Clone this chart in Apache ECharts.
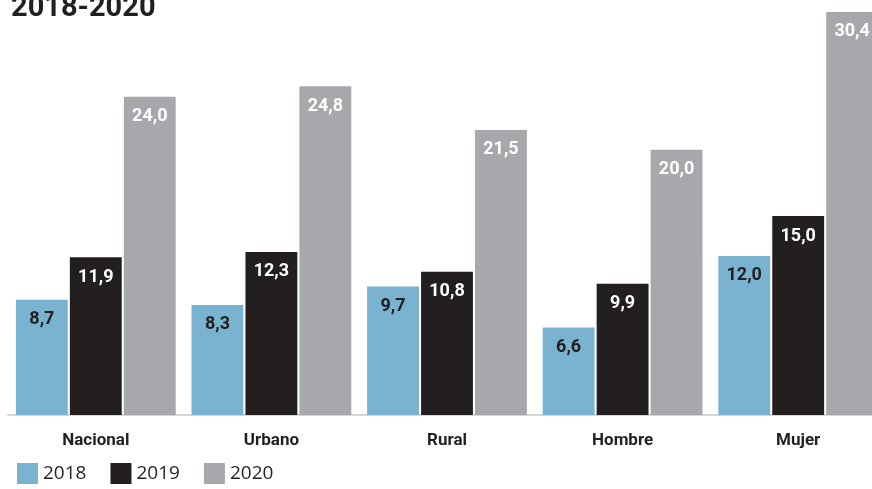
<!DOCTYPE html>
<html><head><meta charset="utf-8">
<script src="https://cdn.jsdelivr.net/npm/echarts@6/dist/echarts.min.js"></script>
<style>html,body{margin:0;padding:0;background:#fff;overflow:hidden;width:872px;height:489px}#c{width:886px;height:489px}</style>
</head><body><div id="c"></div>
<script>
const categories = ['Nacional', 'Urbano', 'Rural', 'Hombre', 'Mujer'];
const seriesNames = ['2018', '2019', '2020'];
const v2018 = [8.7, 8.3, 9.7, 6.6, 12.0];
const v2019 = [11.9, 12.3, 10.8, 9.9, 15.0];
const v2020 = [24.0, 24.8, 21.5, 20.0, 30.4];
const colors = ['#79b3cf', '#231f20', '#a7a8ab'];
const labelColors = ['#231f20', '#ffffff', '#ffffff'];

const chart = echarts.init(document.getElementById('c'));
const fmt = p => p.value.toFixed(1).replace('.', ',');
const data = [v2018, v2019, v2020];
chart.setOption({
  animation: false,
  title: { text: '2018-2020', left: 6, top: -11, textStyle: { fontFamily: 'Roboto', fontWeight: 'bold', fontSize: 29, color: '#231f20' } },
  legend: {
    left: 12, bottom: 0, itemWidth: 21, itemHeight: 21, itemGap: 24,
    icon: 'rect',
    textStyle: { fontFamily: 'Open Sans', fontSize: 19, color: '#231f20' },
    data: seriesNames
  },
  grid: { left: 8, right: 0, top: 0, bottom: 74 },
  xAxis: {
    type: 'category', data: categories,
    axisLine: { lineStyle: { color: '#d6d6d6', width: 2 } },
    axisTick: { show: false },
    axisLabel: { margin: 17, fontFamily: 'Roboto', fontWeight: 'bold', fontSize: 17, color: '#231f20' }
  },
  yAxis: { type: 'value', min: 0, max: 31.3, show: false, splitLine: { show: false } },
  series: seriesNames.map((n, i) => ({
    name: n, type: 'bar', data: data[i],
    barGap: '4%', barCategoryGap: '9%',
    itemStyle: { color: colors[i] },
    label: { show: true, position: 'insideTop', distance: 11, formatter: fmt,
      fontFamily: 'Roboto', fontWeight: 'bold', fontSize: 18, color: labelColors[i] }
  }))
});
</script></body></html>
